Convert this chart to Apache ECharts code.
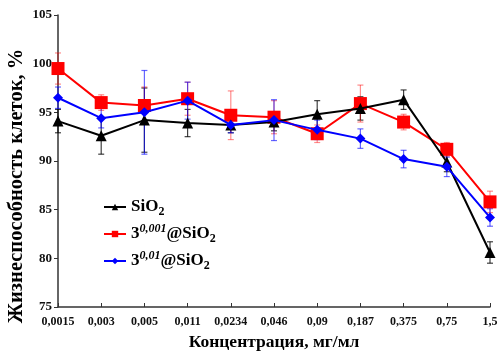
<!DOCTYPE html>
<html><head><meta charset="utf-8">
<script src="https://cdn.jsdelivr.net/npm/echarts@6/dist/echarts.min.js"></script>
<style>html,body{margin:0;padding:0;background:#fff}#c{width:500px;height:352px}</style>
</head><body><div id="c"></div>
<script>
const categories = ['0,0015','0,003','0,005','0,011','0,0234','0,046','0,09','0,187','0,375','0,75','1,5'];
const sio2 = [94.1, 92.6, 94.2, 93.9, 93.7, 94.0, 94.8, 95.4, 96.3, 89.9, 80.6];
const sio2Err = [1.2, 1.9, 3.3, 1.4, 0.8, 0.9, 1.4, 1.2, 1.0, 1.0, 1.1];
const s001 = [99.5, 96.0, 95.7, 96.4, 94.7, 94.5, 92.8, 95.9, 94.0, 91.2, 85.8];
const s001Err = [1.6, 0.8, 1.9, 1.7, 2.5, 1.7, 0.9, 1.9, 0.8, 0.7, 1.1];
const s01 = [96.5, 94.4, 95.0, 96.2, 93.7, 94.2, 93.2, 92.3, 90.2, 89.4, 84.2];
const s01Err = [1.1, 1.0, 4.3, 1.9, 0.8, 2.1, 1.0, 1.0, 0.9, 1.0, 0.9];
const yTicks = {min: 75, max: 105, interval: 5};

const serif = '"Liberation Serif","DejaVu Serif",serif';
function errSeries(vals, errs, color) {
  return {
    type: 'custom', silent: true, z: 1,
    data: vals.map((v, i) => [i, v, errs[i]]),
    encode: {x: 0, y: 1},
    renderItem: function (params, api) {
      const i = api.value(0), m = api.value(1), e = api.value(2);
      const top = api.coord([i, m + e]);
      const bot = api.coord([i, m - e]);
      const w = 3;
      const st = {stroke: color, lineWidth: 1.2};
      return {type: 'group', children: [
        {type: 'line', shape: {x1: top[0], y1: top[1], x2: bot[0], y2: bot[1]}, style: st},
        {type: 'line', shape: {x1: top[0]-w, y1: top[1], x2: top[0]+w, y2: top[1]}, style: st},
        {type: 'line', shape: {x1: bot[0]-w, y1: bot[1], x2: bot[0]+w, y2: bot[1]}, style: st}
      ]};
    }
  };
}
const chart = echarts.init(document.getElementById('c'), null, {renderer: 'canvas'});
const richStyles = {
  b: {fontFamily: serif, fontWeight: 'bold', fontSize: 17, color: '#000', lineHeight: 22},
  sub: {fontFamily: serif, fontWeight: 'bold', fontSize: 12, color: '#000', lineHeight: 22, verticalAlign: 'bottom', padding: [8, 0, 0, 0]},
  sup: {fontFamily: serif, fontWeight: 'bold', fontStyle: 'italic', fontSize: 12, color: '#000', lineHeight: 22, verticalAlign: 'top', padding: [0, 0, 8, 0]}
};
const names = ['SiO2', '3-0,001', '3-0,01'];
chart.setOption({
  animation: false,
  grid: {left: 58, right: 10, top: 15, bottom: 45, outerBoundsMode: 'none', containLabel: false},
  graphic: [{
    type: 'text', x: 17, y: 186, rotation: Math.PI / 2,
    style: {text: 'Жизнеспособность клеток, %', fontFamily: serif, fontWeight: 'bold', fontSize: 20.5,
      fill: '#000', textAlign: 'center', textVerticalAlign: 'middle'}
  }],
  legend: {
    data: names, orient: 'vertical', left: 98, top: 193, itemGap: 5,
    itemWidth: 22, itemHeight: 8,
    formatter: function (n) {
      if (n === 'SiO2') return '{b|SiO}{sub|2}';
      if (n === '3-0,001') return '{b|3}{sup|0,001}{b|@SiO}{sub|2}';
      return '{b|3}{sup|0,01}{b|@SiO}{sub|2}';
    },
    textStyle: {rich: richStyles}
  },
  xAxis: {
    type: 'category', data: categories, boundaryGap: false,
    axisLine: {lineStyle: {color: '#333', width: 1.5}},
    axisTick: {inside: true, length: 4, interval: 0, lineStyle: {color: '#333'}},
    axisLabel: {fontFamily: serif, fontWeight: 'bold', fontSize: 12, color: '#111', margin: 9, interval: 0, hideOverlap: false},
    name: 'Концентрация, мг/мл', nameLocation: 'middle', nameGap: 26,
    nameTextStyle: {fontFamily: serif, fontWeight: 'bold', fontSize: 17.5, color: '#000'}
  },
  yAxis: {
    type: 'value', min: yTicks.min, max: yTicks.max, interval: yTicks.interval,
    axisLine: {show: true, lineStyle: {color: '#333', width: 1.5}},
    axisTick: {show: true, length: 4, lineStyle: {color: '#333'}},
    splitLine: {show: false},
    axisLabel: {fontFamily: serif, fontWeight: 'bold', fontSize: 13, color: '#111', margin: 6}
  },
  series: [
    errSeries(sio2, sio2Err, 'rgba(0,0,0,0.75)'),
    errSeries(s001, s001Err, 'rgba(255,0,0,0.45)'),
    errSeries(s01, s01Err, 'rgba(0,0,255,0.6)'),
    {name: 'SiO2', type: 'line', data: sio2, z: 3, symbol: 'triangle', symbolSize: 11,
      lineStyle: {color: '#000', width: 2}, itemStyle: {color: '#000'}},
    {name: '3-0,001', type: 'line', data: s001, z: 2, symbol: 'rect', symbolSize: 13,
      lineStyle: {color: '#ff0000', width: 2}, itemStyle: {color: '#ff0000'}},
    {name: '3-0,01', type: 'line', data: s01, z: 4, symbol: 'diamond', symbolSize: 10,
      lineStyle: {color: '#0000ff', width: 2}, itemStyle: {color: '#0000ff'}}
  ]
});
</script></body></html>
